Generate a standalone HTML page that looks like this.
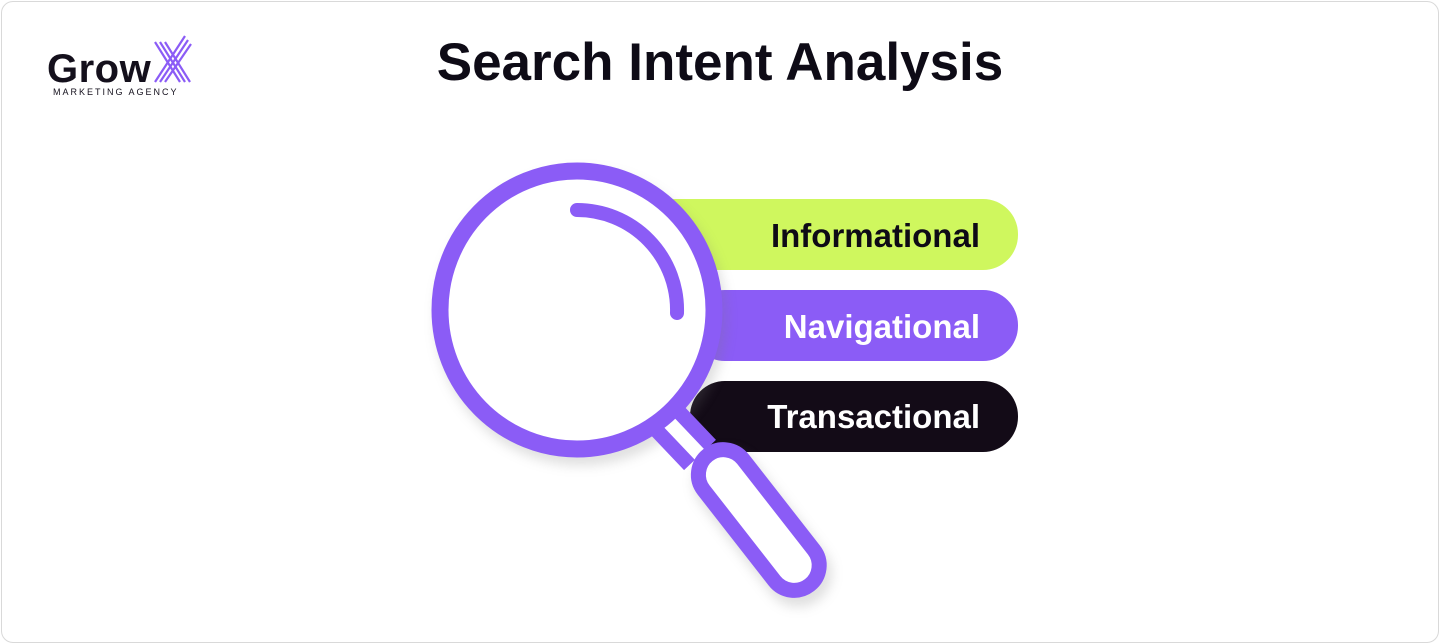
<!DOCTYPE html>
<html><head><meta charset="utf-8"><style>
html,body{margin:0;padding:0;background:#fff;}
.frame{position:absolute;left:1px;top:1px;width:1436px;height:640px;border:1px solid #d9d9d9;border-radius:12px;background:#fff;overflow:hidden;}
</style></head><body>
<div class="frame">
<svg width="1440" height="644" viewBox="0 0 1440 644" style="position:absolute;left:-2px;top:-2px" xmlns="http://www.w3.org/2000/svg">
<defs>
<filter id="sh" x="-30%" y="-30%" width="160%" height="160%"><feGaussianBlur stdDeviation="6"/></filter>
</defs>
<!-- logo -->
<text x="47" y="82" font-family="Liberation Sans, sans-serif" font-size="40" font-weight="bold" fill="#14101c" letter-spacing="0.5">Grow</text>
<g stroke="#8b5cf6" stroke-width="2.2" fill="none">
<line x1="155" y1="42" x2="180" y2="82"/><line x1="160" y1="42" x2="185" y2="82"/><line x1="165" y1="42" x2="190" y2="82"/>
<line x1="155" y1="82" x2="185" y2="36"/><line x1="160" y1="82" x2="188" y2="40"/><line x1="165" y1="82" x2="191" y2="44"/>
</g>
<text x="53" y="95" font-family="Liberation Sans, sans-serif" font-size="9" fill="#14101c" letter-spacing="2">MARKETING AGENCY</text>
<!-- title -->
<text x="720" y="80" text-anchor="middle" font-family="Liberation Sans, sans-serif" font-size="53" font-weight="bold" fill="#0e0b16">Search Intent Analysis</text>
<!-- pills -->
<rect x="640" y="199" width="378" height="71" rx="35" fill="#cff75e"/>
<rect x="690" y="290" width="328" height="71" rx="35" fill="#8b5cf6"/>
<rect x="690" y="381" width="328" height="71" rx="35" fill="#130b17"/>
<text x="980" y="247" text-anchor="end" font-family="Liberation Sans, sans-serif" font-size="33" font-weight="bold" fill="#0e0b16">Informational</text>
<text x="980" y="338" text-anchor="end" font-family="Liberation Sans, sans-serif" font-size="33" font-weight="bold" fill="#fff">Navigational</text>
<text x="980" y="428" text-anchor="end" font-family="Liberation Sans, sans-serif" font-size="33" font-weight="bold" fill="#fff">Transactional</text>
<!-- shadow -->
<g opacity="0.25" filter="url(#sh)" transform="translate(4,8)" stroke="#777" fill="none" stroke-width="16">
<ellipse cx="577" cy="310" rx="137" ry="139"/>
<g transform="translate(708,455) rotate(-38)"><rect x="-25" y="0" width="50" height="165" rx="25"/></g>
</g>
<!-- neck -->
<line x1="662" y1="415" x2="700" y2="455" stroke="#8b5cf6" stroke-width="44"/>
<line x1="662" y1="415" x2="700" y2="455" stroke="#fff" stroke-width="14"/>
<!-- handle -->
<g transform="translate(708,455) rotate(-38)">
<rect x="-25" y="0" width="50" height="165" rx="25" fill="#fff" stroke="#8b5cf6" stroke-width="15"/>
</g>
<!-- lens -->
<ellipse cx="577" cy="310" rx="137" ry="139" fill="#fff" stroke="#8b5cf6" stroke-width="17"/>
<path d="M577 210 A100 100 0 0 1 677 313" fill="none" stroke="#8b5cf6" stroke-width="14" stroke-linecap="round"/>
</svg>
</div>
</body></html>
